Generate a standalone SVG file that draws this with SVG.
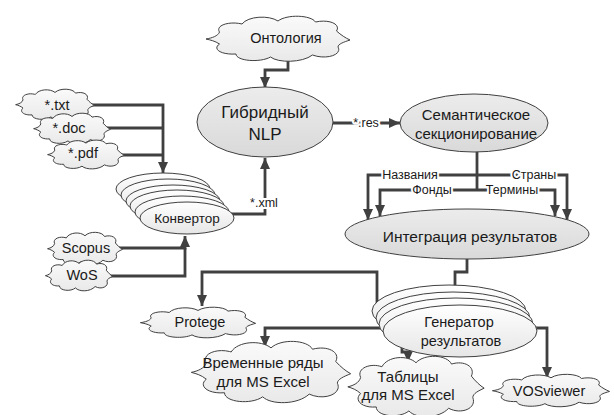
<svg xmlns="http://www.w3.org/2000/svg" xmlns:xlink="http://www.w3.org/1999/xlink" width="614" height="415" viewBox="0 0 614 415">
<defs>
<linearGradient id="gEl" x1="0" y1="0" x2="0" y2="1"><stop offset="0" stop-color="#ececec"/><stop offset="1" stop-color="#d9d9d9"/></linearGradient>
<linearGradient id="gSt" x1="0" y1="0" x2="0" y2="1"><stop offset="0" stop-color="#ffffff"/><stop offset="1" stop-color="#e6e6e6"/></linearGradient>
<linearGradient id="gCl" x1="0" y1="0" x2="0" y2="1"><stop offset="0" stop-color="#fafafa"/><stop offset="1" stop-color="#e9e9e9"/></linearGradient>
<path id="cloud" d="M2,26 C6,25 10,23 11,19 C8,12 18,8 26,11 C30,3 44,2 50,8 C56,1 72,2 75,9 C84,6 92,11 89,18 C92,22 95,25 98,27 C94,29 90,31 90,34 C93,42 82,47 73,42 C66,50 50,50 45,44 C38,50 22,48 22,41 C12,42 6,36 11,31 C8,28 5,27 2,26 Z" fill="url(#gCl)" stroke="#404040" stroke-width="1" vector-effect="non-scaling-stroke"/>
<marker id="arr" markerUnits="userSpaceOnUse" markerWidth="12" markerHeight="12" viewBox="0 0 12 12" refX="11" refY="6" orient="auto"><path d="M0,1 L11,6 L0,11 Z" fill="#404040"/></marker>
</defs>
<style>
.t{font-family:"Liberation Sans",Arial,sans-serif;fill:#1a1a1a;text-anchor:middle;font-size:14.5px}
.lb{font-family:"Liberation Sans",Arial,sans-serif;fill:#1a1a1a;text-anchor:middle;font-size:12.5px;stroke:#ffffff;stroke-width:4px;paint-order:stroke;stroke-linejoin:round}
.c{fill:none;stroke:#404040;stroke-width:2.8;stroke-linejoin:miter}
.ca{fill:none;stroke:#404040;stroke-width:2.8;marker-end:url(#arr)}
.el{fill:url(#gEl);stroke:#404040;stroke-width:1}
.st{fill:url(#gSt);stroke:#404040;stroke-width:1}
</style>
<rect width="614" height="415" fill="#ffffff"/>
<g id="connectors">
<path class="ca" d="M288,55 V70 H265 V88"/>
<path class="ca" d="M85,105 H163 V173"/>
<path class="c" d="M100,128 H163"/>
<path class="c" d="M115,155 H163"/>
<path class="ca" d="M110,248 H185 V236"/>
<path class="c" d="M100,276 H185 V248"/>
<path class="ca" d="M225,214 H265 V158"/>
<path class="ca" d="M330,123 H400"/>
<path class="c" d="M477,148 V190"/>
<path class="ca" d="M477,175 H368 V220"/>
<path class="ca" d="M477,175 H567 V220"/>
<path class="ca" d="M477,190 H380 V216"/>
<path class="ca" d="M477,190 H555 V216"/>
<path class="c" d="M467,255 V272 H455 V290"/>
<path class="ca" d="M377,305 V272 H202 V306"/>
<path class="ca" d="M390,328 H265 V347"/>
<path class="ca" d="M402,340 V352 H408 V362"/>
<path class="ca" d="M530,328 H547 V378"/>
</g>
<g id="ontology">
<use xlink:href="#cloud" transform="translate(203,13) scale(1.5,1)"/>
<text class="t" x="286" y="43">Онтология</text>
</g>
<g id="hybrid-nlp">
<ellipse class="el" cx="265" cy="122" rx="68" ry="35"/>
<text class="t" x="265" y="118" style="font-size:17px">Гибридный</text>
<text class="t" x="265" y="140" style="font-size:17px">NLP</text>
</g>
<g id="semantic">
<ellipse class="el" cx="474" cy="123" rx="74" ry="29"/>
<text class="t" x="476" y="120" style="font-size:15px">Семантическое</text>
<text class="t" x="476" y="139" style="font-size:15px">секционирование</text>
</g>
<g id="integration">
<ellipse class="el" cx="467" cy="234" rx="122" ry="25"/>
<text class="t" x="470" y="242" style="font-size:15.5px">Интеграция результатов</text>
</g>
<g id="txt">
<use xlink:href="#cloud" transform="translate(14,87) scale(0.82,0.68)"/>
<text class="t" x="57" y="110">*.txt</text>
</g>
<g id="doc">
<use xlink:href="#cloud" transform="translate(32,111) scale(0.8,0.68)"/>
<text class="t" x="69" y="133">*.doc</text>
</g>
<g id="pdf">
<use xlink:href="#cloud" transform="translate(46,138) scale(0.8,0.64)"/>
<text class="t" x="83" y="158">*.pdf</text>
</g>
<g id="converter">
<ellipse class="st" cx="163" cy="189" rx="47" ry="16"/>
<ellipse class="st" cx="168" cy="195" rx="47" ry="16"/>
<ellipse class="st" cx="173" cy="201" rx="47" ry="16"/>
<ellipse class="st" cx="177" cy="206" rx="47" ry="16"/>
<ellipse class="st" cx="182" cy="212" rx="47" ry="16"/>
<ellipse class="st" cx="187" cy="218" rx="47" ry="16"/>
<text class="t" x="187" y="223" style="font-size:13.5px">Конвертор</text>
</g>
<g id="scopus">
<use xlink:href="#cloud" transform="translate(46,230) scale(0.78,0.72)"/>
<text class="t" x="86" y="253">Scopus</text>
</g>
<g id="wos">
<use xlink:href="#cloud" transform="translate(44,258) scale(0.7,0.68)"/>
<text class="t" x="82" y="280">WoS</text>
</g>
<g id="generator">
<ellipse class="st" cx="449" cy="311" rx="77" ry="26"/>
<ellipse class="st" cx="453" cy="318" rx="77" ry="26"/>
<ellipse class="st" cx="456" cy="324" rx="77" ry="26"/>
<ellipse class="st" cx="460" cy="331" rx="77" ry="26"/>
<text class="t" x="459" y="327">Генератор</text>
<text class="t" x="461" y="346">результатов</text>
</g>
<g id="protege">
<use xlink:href="#cloud" transform="translate(138,305) scale(1.2,0.68)"/>
<text class="t" x="200" y="327">Protege</text>
</g>
<g id="timeseries">
<use xlink:href="#cloud" transform="translate(188,337) scale(1.66,1.36)"/>
<text class="t" x="263" y="368" style="font-size:15px">Временные ряды</text>
<text class="t" x="263" y="387" style="font-size:15px">для MS Excel</text>
</g>
<g id="tables">
<use xlink:href="#cloud" transform="translate(345,352) scale(1.42,1.34)"/>
<text class="t" x="408" y="382" style="font-size:15px">Таблицы</text>
<text class="t" x="408" y="400" style="font-size:15px">для MS Excel</text>
</g>
<g id="vosviewer">
<use xlink:href="#cloud" transform="translate(490,372) scale(1.22,0.72)"/>
<text class="t" x="549" y="396">VOSviewer</text>
</g>
<g id="labels">
<text class="lb" x="264" y="207">*.xml</text>
<text class="lb" x="366" y="127">*.res</text>
<text class="lb" x="410" y="179">Названия</text>
<text class="lb" x="534" y="179">Страны</text>
<text class="lb" x="432" y="194">Фонды</text>
<text class="lb" x="512" y="194">Термины</text>
</g>
</svg>
